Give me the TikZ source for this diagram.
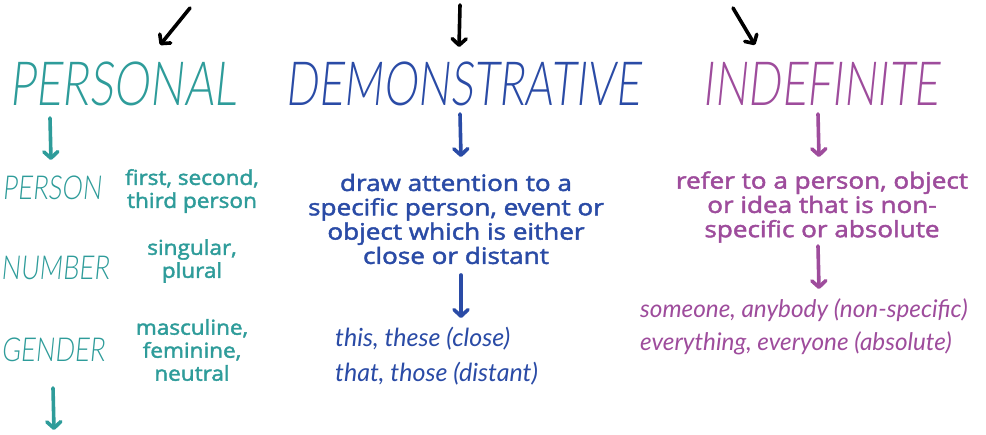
\documentclass[tikz,border=0pt]{standalone}
\usepackage{fontspec}
\usetikzlibrary{arrows.meta}
\IfFontExistsTF{Lato Light}%
  {\newfontfamily\headfont[FakeStretch=0.71,FakeSlant=0.1]{Lato Light}%
   \newfontfamily\subfont[FakeStretch=0.78,FakeSlant=0.1]{Lato Light}}%
  {\newfontfamily\headfont[FakeStretch=0.71,FakeSlant=0.1]{Lato}%
   \newfontfamily\subfont[FakeStretch=0.78,FakeSlant=0.1]{Lato}}
\newfontfamily\bodyfont[FakeStretch=1.16,FakeBold=2]{Open Sans}
\newfontfamily\sidefont[FakeStretch=1.1,FakeBold=2]{Open Sans}
\newfontfamily\handfont{Lato Italic}
\definecolor{cteal}{HTML}{2E9C9A}
\definecolor{cblue}{HTML}{2A4BA6}
\definecolor{cpurp}{HTML}{9E4C9C}
\tikzset{
  bigtitle/.style={font=\headfont\fontsize{61}{61}\selectfont, inner sep=0pt},
  subtitle/.style={font=\subfont\fontsize{33}{33}\selectfont, inner sep=0pt},
  desc/.style={font=\bodyfont\fontsize{22.5}{24.3}\selectfont, align=center, inner sep=0pt},
  sidedesc/.style={font=\sidefont\fontsize{20.5}{23}\selectfont, align=center, inner sep=0pt},
  hand/.style={font=\handfont\fontsize{25}{33}\selectfont, inner sep=0pt, anchor=base west},
  harrow/.style={line width=3.6pt, line cap=round, line join=round,
     -{Straight Barb[length=6.5pt,width=14pt,round]}},
}
\begin{document}
\begin{tikzpicture}[x=1pt,y=-1pt]
\useasboundingbox (0,0) rectangle (986,435);
\fill[white] (0,0) rectangle (986,435);
\clip (0,0) rectangle (986,435);
% black top arrows
\coordinate (b1s) at (190,8); \coordinate (b1e) at (160,45);
\coordinate (b2s) at (460,5); \coordinate (b2e) at (459,47);
\coordinate (b3s) at (733,8); \coordinate (b3e) at (755,45);
\draw[harrow,black] (b1s) -- (b1e);
\draw[harrow,black] (b2s) -- (b2e);
\draw[harrow,black] (b3s) -- (b3e);
% titles
\node[bigtitle,text=cteal] (pers) at (123,84) {\scalebox{1.05}[1]{PERSONAL}};
\node[bigtitle,text=cblue] (dem) at (463,84) {DEMONSTRATIVE};
\node[bigtitle,text=cpurp] (ind) at (821,84) {\scalebox{1.02}[1]{INDEFINITE}};
% personal column
\coordinate (p1s) at (50,118); \coordinate (p1e) at (51,160);
\draw[harrow,cteal] (p1s) -- (p1e);
\node[subtitle,text=cteal] (person) at (52,188) {PERSON};
\node[subtitle,text=cteal] (number) at (55,268) {NUMBER};
\node[subtitle,text=cteal] (gender) at (53,350) {GENDER};
\node[sidedesc,text=cteal] (d1) at (192,191) {first, second,\\third person};
\node[sidedesc,text=cteal] (d2) at (192,261) {singular,\\plural};
\node[sidedesc,text=cteal] (d3) at (192,350) {masculine,\\feminine,\\neutral};
\coordinate (p2s) at (53,388); \coordinate (p2e) at (54,430);
\draw[harrow,cteal] (p2s) -- (p2e);
% demonstrative column
\coordinate (m1s) at (460,114); \coordinate (m1e) at (461,157);
\draw[harrow,cblue] (m1s) -- (m1e);
\node[desc,text=cblue] (mdesc) at (456,219) {draw attention to a\\specific person, event or\\object which is either\\close or distant};
\coordinate (m2s) at (461,275); \coordinate (m2e) at (461,318);
\draw[harrow,cblue] (m2s) -- (m2e);
\node[hand,text=cblue] (mex1) at (335,347) {this, these (close)};
\node[hand,text=cblue] (mex2) at (335,382) {that, those (distant)};
% indefinite column
\coordinate (i1s) at (818,114); \coordinate (i1e) at (819,157);
\draw[harrow,cpurp] (i1s) -- (i1e);
\node[desc,text=cpurp] (idesc) at (822,207) {refer to a person, object\\or idea that is non-\\specific or absolute};
\coordinate (i2s) at (818,246); \coordinate (i2e) at (819,289);
\draw[harrow,cpurp] (i2s) -- (i2e);
\node[hand,text=cpurp,font=\handfont\fontsize{24.3}{33}\selectfont] (iex1) at (640,318) {someone, anybody (non-specific)};
\node[hand,text=cpurp,font=\handfont\fontsize{24.3}{33}\selectfont] (iex2) at (640,351) {everything, everyone (absolute)};
\end{tikzpicture}
\end{document}
